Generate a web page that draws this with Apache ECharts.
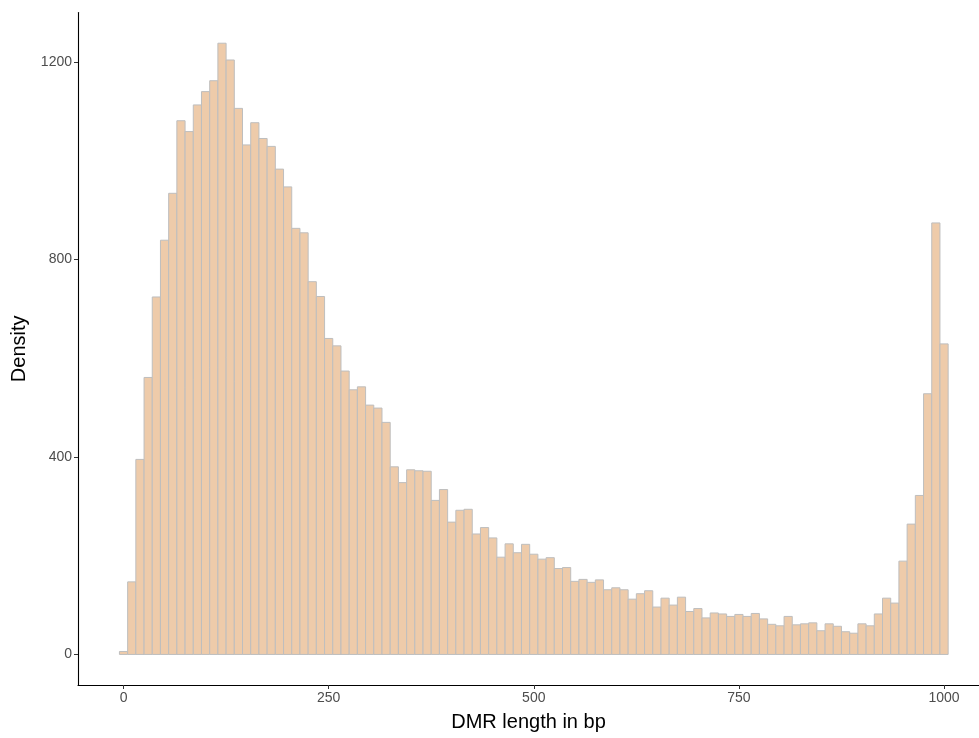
<!DOCTYPE html>
<html>
<head>
<meta charset="utf-8">
<title>DMR length distribution</title>
<script src="https://cdn.jsdelivr.net/npm/echarts@6/dist/echarts.min.js"></script>
<style>
  html, body { margin: 0; padding: 0; background: #ffffff; }
  #chart { width: 979px; height: 738px; }
</style>
</head>
<body>
<div id="chart"></div>
<script>
// Histogram bins: centre of each 10 bp bin
const binCenters = [
  0, 10, 20, 30, 40, 50, 60, 70, 80, 90,
  100, 110, 120, 130, 140, 150, 160, 170, 180, 190,
  200, 210, 220, 230, 240, 250, 260, 270, 280, 290,
  300, 310, 320, 330, 340, 350, 360, 370, 380, 390,
  400, 410, 420, 430, 440, 450, 460, 470, 480, 490,
  500, 510, 520, 530, 540, 550, 560, 570, 580, 590,
  600, 610, 620, 630, 640, 650, 660, 670, 680, 690,
  700, 710, 720, 730, 740, 750, 760, 770, 780, 790,
  800, 810, 820, 830, 840, 850, 860, 870, 880, 890,
  900, 910, 920, 930, 940, 950, 960, 970, 980, 990,
  1000
];
// Bar heights per bin
const binHeights = [
  6, 147, 395, 561, 724, 839, 934, 1081, 1059, 1113,
  1140, 1162, 1238, 1204, 1106, 1032, 1077, 1045, 1029, 983,
  947, 863, 854, 755, 725, 640, 625, 574, 536, 542,
  505, 499, 470, 380, 348, 374, 372, 371, 312, 334,
  268, 292, 294, 244, 257, 236, 197, 224, 206, 223,
  203, 193, 196, 174, 176, 148, 152, 146, 151, 131,
  135, 131, 112, 123, 129, 96, 114, 100, 116, 87,
  93, 74, 84, 82, 77, 81, 77, 83, 72, 61,
  58, 77, 60, 62, 64, 48, 62, 57, 46, 43,
  62, 58, 82, 114, 104, 189, 264, 322, 528, 874,
  629
];
const binWidth = 10;
const xTicks = [0, 250, 500, 750, 1000];
const yTicks = [0, 400, 800, 1200];

const chart = echarts.init(document.getElementById('chart'), null, { renderer: 'canvas' });

const textFont = 'Liberation Sans, Arial, Helvetica, sans-serif';
const plain = v => String(v);

chart.setOption({
  animation: false,
  backgroundColor: '#ffffff',
  grid: {
    left: 78, right: 0, top: 12.6, bottom: 53,
    containLabel: false,
    outerBoundsMode: 'none'
  },
  xAxis: {
    type: 'value',
    min: -55.5,
    max: 1042.6,
    name: 'DMR length in bp',
    nameLocation: 'middle',
    nameGap: 27,
    nameTextStyle: { fontFamily: textFont, fontSize: 20, color: '#000000' },
    splitLine: { show: false },
    axisLine: { show: true, onZero: false, lineStyle: { color: '#000000', width: 1.1 } },
    axisTick: { show: true, length: 4, lineStyle: { color: '#333333', width: 1 }, customValues: xTicks },
    axisLabel: { fontFamily: textFont, fontSize: 14, color: '#4d4d4d', margin: 6, customValues: xTicks, formatter: plain }
  },
  yAxis: {
    type: 'value',
    min: -61.9,
    max: 1300,
    name: 'Density',
    nameLocation: 'middle',
    nameGap: 48,
    nameRotate: 90,
    nameTextStyle: { fontFamily: textFont, fontSize: 20, color: '#000000' },
    splitLine: { show: false },
    axisLine: { show: true, onZero: false, lineStyle: { color: '#000000', width: 1.1 } },
    axisTick: { show: true, length: 4, lineStyle: { color: '#333333', width: 1 }, customValues: yTicks },
    axisLabel: { fontFamily: textFont, fontSize: 14, color: '#4d4d4d', margin: 6, customValues: yTicks, formatter: plain }
  },
  series: [{
    type: 'custom',
    data: binCenters.map((c, i) => [c, binHeights[i]]),
    encode: { x: 0, y: 1 },
    renderItem: function (params, api) {
      const c = api.value(0);
      const h = api.value(1);
      const topLeft = api.coord([c - binWidth / 2, h]);
      const bottomRight = api.coord([c + binWidth / 2, 0]);
      return {
        type: 'rect',
        shape: {
          x: topLeft[0],
          y: topLeft[1],
          width: bottomRight[0] - topLeft[0],
          height: bottomRight[1] - topLeft[1]
        },
        style: { fill: '#EECBAA', stroke: '#BEBEBE', lineWidth: 1 }
      };
    }
  }]
});
</script>
</body>
</html>
